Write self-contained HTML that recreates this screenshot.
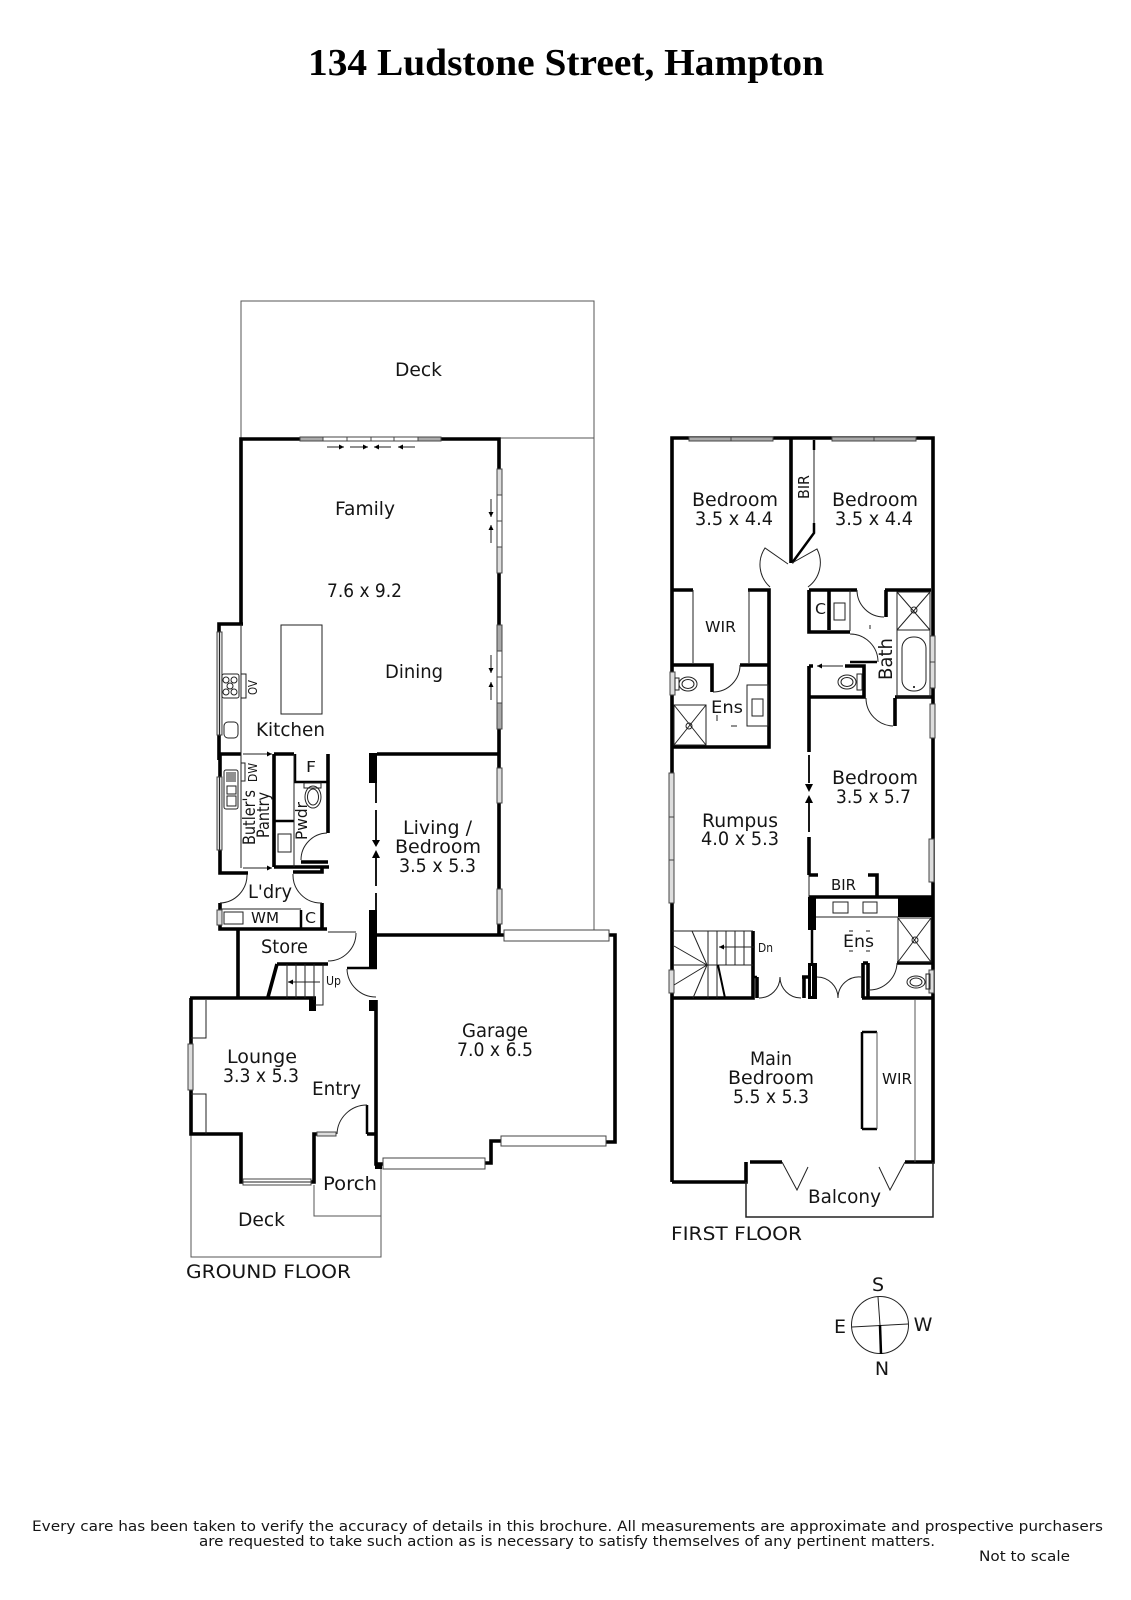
<!DOCTYPE html>
<html lang="en"><head><meta charset="utf-8"><title>134 Ludstone Street, Hampton</title>
<style>
html,body{margin:0;padding:0;background:#fff}
svg{display:block}
text{font-family:"DejaVu Sans","Liberation Sans",sans-serif;font-size:19px;fill:#151515}
.ti{font-family:"Liberation Serif",serif;font-weight:bold;font-size:38px;fill:#000}
.s{font-size:15px}.f{font-size:14px}.u{font-size:12px}
.w{fill:none;stroke:#000;stroke-width:3.6;stroke-linejoin:miter}
.m{fill:none;stroke:#000;stroke-width:2.5}
.t{fill:none;stroke:#222;stroke-width:1}
.b{fill:none;stroke:#222;stroke-width:1.5}
.g{fill:none;stroke:#555;stroke-width:1}
.win{fill:#fff;stroke:#444;stroke-width:1}
.gr{fill:#aaa;stroke:#444;stroke-width:1}
.l{fill:#ddd;stroke:#444;stroke-width:1}
</style></head><body>
<svg width="1131" height="1600" viewBox="0 0 1131 1600" xmlns="http://www.w3.org/2000/svg">
<rect width="1131" height="1600" fill="#fff"/>
<defs><marker id="a" markerWidth="6" markerHeight="6" refX="5" refY="3" orient="auto" markerUnits="userSpaceOnUse"><path d="M0 0.5L5 3L0 5.5z" fill="#000"/></marker></defs>

<text class="ti" x="308" y="75" textLength="516" lengthAdjust="spacingAndGlyphs">134 Ludstone Street, Hampton</text>

<!-- GROUND FLOOR -->
<path class="g" d="M241 438V301H594V930M499 438H594"/>
<path class="g" d="M191 1134V1257H381V1169M314 1185V1216H381"/>
<path class="w" d="M241 623V439H499V935M219 760V624H243M241 439V624M220 754H241M274 754H294M377 754H499M377 935H505M609 935H615V1142H606M501 1141H491V1163H485M383 1164H376V1134M376 1140V1000"/>
<path class="w" d="M220 754V873H248M293 872H322V867M274 867H329M274 754V867M220 903V929H327M322 903V929M238 929V998M190 998H316M191 998V1134H241V1182H243M311 1182H314V1134H317M367 1134H377M277 964H328M277 964L268 997M301 862H328M328 754V833"/>
<path class="m" d="M295 754V782H328M274 821H294M301 910V929M347 968H377M367 1105V1134"/>
<path class="t" d="M241 624V754M241 754V868M294 754V867M220 909H301M191 1038H206V1000M191 1094H206V1134"/>
<rect x="369" y="753" width="8" height="30"/><rect x="369" y="910" width="8" height="57"/><rect x="369" y="1000" width="8" height="11"/><rect x="309" y="998" width="7" height="13"/>
<path d="M376 783V803M376 810V840M376 858V886M376 893V910" fill="none" stroke="#000" stroke-width="1.8"/>
<path d="M372 840H380L376 847zM372 858H380L376 850z" fill="#000"/>
<!-- top window -->
<rect class="gr" x="300" y="437" width="23" height="4"/><rect class="win" x="323" y="437" width="24" height="4"/><rect class="win" x="347" y="437" width="24" height="4"/><rect class="win" x="371" y="437" width="23" height="4"/><rect class="win" x="394" y="437" width="24" height="4"/><rect class="gr" x="418" y="437" width="23" height="4"/>
<path class="t" d="M327 447H344" marker-end="url(#a)"/><path class="t" d="M350 447H368" marker-end="url(#a)"/><path class="t" d="M391 447H374" marker-end="url(#a)"/><path class="t" d="M415 447H398" marker-end="url(#a)"/>
<!-- right windows -->
<rect class="l" x="497" y="469" width="5" height="26"/><rect class="win" x="497" y="495" width="5" height="26"/><rect class="win" x="497" y="521" width="5" height="26"/><rect class="l" x="497" y="547" width="5" height="26"/>
<rect class="gr" x="497" y="625" width="5" height="26"/><rect class="win" x="497" y="651" width="5" height="26"/><rect class="win" x="497" y="677" width="5" height="26"/><rect class="gr" x="497" y="703" width="5" height="26"/>
<path class="t" d="M491 499V517" marker-end="url(#a)"/><path class="t" d="M491 543V525" marker-end="url(#a)"/><path class="t" d="M491 655V673" marker-end="url(#a)"/><path class="t" d="M491 700V682" marker-end="url(#a)"/>
<rect class="l" x="497" y="768" width="5" height="35"/><rect class="l" x="497" y="889" width="5" height="35"/>
<!-- left windows -->
<rect class="l" x="217" y="632" width="5" height="103"/><path class="t" d="M219.500 632V735"/>
<rect class="l" x="217" y="777" width="5" height="73"/><path class="t" d="M219.500 777V850"/>
<rect class="l" x="217" y="910" width="5" height="15"/>
<rect class="l" x="188" y="1044" width="5" height="46"/>
<rect class="win" x="243" y="1179" width="68" height="6"/><path class="t" d="M243 1182H311"/>
<rect class="l" x="317" y="1132" width="19" height="4"/>
<!-- garage windows -->
<rect class="win" x="504" y="930" width="105" height="11"/><rect class="win" x="383" y="1158" width="102" height="11"/><rect class="win" x="501" y="1136" width="105" height="10"/>
<rect x="375" y="1163" width="7" height="6"/>
<!-- kitchen fittings -->
<rect class="t" x="281" y="625" width="41" height="89"/>
<rect class="t" x="222" y="674" width="17" height="24" rx="2"/><rect class="t" x="241" y="674" width="5" height="24"/>
<circle class="t" cx="226" cy="680" r="3"/><circle class="t" cx="234" cy="680" r="3"/><circle class="t" cx="230" cy="686" r="3"/><circle class="t" cx="226" cy="692" r="3"/><circle class="t" cx="234" cy="692" r="3"/>
<rect class="t" x="224" y="722" width="14" height="16" rx="4"/>
<path class="t" d="M243 754H272" marker-end="url(#a)"/><path class="t" d="M243 868H272" marker-end="url(#a)"/>
<rect class="t" x="241" y="763" width="4" height="18"/>
<rect class="t" x="224" y="770" width="14" height="39" rx="2"/><rect class="t" x="227" y="786" width="9" height="8"/><rect class="t" x="227" y="796" width="9" height="10"/><path class="t" d="M226 773H236M226 775H236M226 777H236M226 779H236M226 781H236"/>
<rect class="t" x="278" y="834" width="13" height="18"/>
<rect class="t" x="224" y="912" width="19" height="12"/>
<rect class="t" x="304" y="783" width="17" height="5"/><ellipse class="t" cx="313" cy="797" rx="8" ry="11"/><ellipse class="t" cx="313" cy="797" rx="5.500" ry="8"/>
<!-- doors -->
<path class="t" d="M327 833A27 27 0 0 0 301 860M247 874A28 28 0 0 1 220 903M293 874A28 28 0 0 0 322 903M356 933A28 28 0 0 1 328 961M328 932H356M347 969A29 29 0 0 0 376 997M337 1134A30 30 0 0 1 367 1105"/>
<!-- stairs -->
<path class="t" d="M287 964V998M296 964V998M305 964V998M314 964V1000M323 964V1005H315"/>
<path class="t" d="M320 982H288" marker-end="url(#a)"/>

<!-- FIRST FLOOR -->
<path class="w" d="M672 1182V438H933V1162H905M791 438V563M672 590H693M748 590H769V747H672M672 665H712V692M740 665H769M672 998H753V931M862 998H932M809 590H857M886 590V617M885 590H931M809 590V632H850M829 590V630M809 666V752M809 666H813M845 666H864V697H809M895 698V726M895 697H932M809 837V875M809 875H818M868 875H877V897M809 897H933M750 1162H782M746 1162V1182H672M897 963H932M863 963V998M868 963V998M863 963H868M757 977V998M802 977H808M804 977V998"/>
<path class="m" d="M814 440V450M814 523V533L792 563M850 662H877M757 977H753M862 1032H877M862 1129H877M862 1032V1129"/>
<path class="t" d="M814 450V523M693 590V663M749 590V663M850 590V631M708 931H672M753 931H672M809 875V897"/>
<path class="g" d="M877 1032V1129M915 1000V1162"/>
<path class="b" d="M746 1182V1217H933V1162"/>
<path class="t" d="M788 564L765 548A30 30 0 0 0 770 587M792 563L817 549A30 30 0 0 1 808 587M857 590A27 27 0 0 0 884 617M850 634A28 28 0 0 1 878 662M866 698A28 28 0 0 0 893 726M740 665A27 27 0 0 1 713 692M868 990A28 28 0 0 0 897 963M817 977A21 21 0 0 1 838 998A21 21 0 0 1 861 977M759 998A21 21 0 0 0 780 977A21 21 0 0 0 801 998"/>
<path class="t" d="M782 1162L797 1190L808 1167M905 1162L890 1190L879 1167"/>
<!-- first floor windows -->
<rect class="gr" x="689" y="437" width="42" height="4"/><rect class="gr" x="731" y="437" width="42" height="4"/><rect class="gr" x="832" y="437" width="42" height="4"/><rect class="gr" x="874" y="437" width="42" height="4"/>
<rect class="l" x="670" y="672" width="5" height="23"/>
<rect class="l" x="930" y="636" width="5" height="26"/><rect class="l" x="930" y="662" width="5" height="26"/><rect class="l" x="930" y="704" width="5" height="34"/>
<rect class="l" x="669" y="773" width="5" height="44"/><rect class="l" x="669" y="817" width="5" height="43"/><rect class="l" x="669" y="860" width="5" height="43"/>
<rect class="l" x="929" y="839" width="5" height="43"/><rect class="l" x="929" y="970" width="5" height="23"/><rect class="l" x="669" y="970" width="5" height="23"/>
<!-- fittings -->
<rect class="t" x="675" y="678" width="4" height="12"/><ellipse class="t" cx="688" cy="684" rx="9" ry="7"/><ellipse class="t" cx="688" cy="684" rx="6" ry="4.500"/>
<rect class="t" x="674" y="705" width="32" height="40"/><path class="t" d="M674 705L706 745M706 705L674 745"/><circle class="t" cx="689" cy="726" r="3"/>
<rect class="t" x="747" y="685" width="21" height="41"/><rect class="t" x="752" y="699" width="11" height="17"/>
<path class="t" d="M717 715V721M731 726H737"/>
<rect class="t" x="834" y="603" width="11" height="17"/>
<rect class="t" x="897" y="592" width="33" height="38"/><path class="t" d="M897 592L930 630M930 592L897 630"/><circle class="t" cx="914" cy="610" r="3"/>
<rect class="t" x="897" y="630" width="33" height="67"/><rect class="t" x="902" y="637" width="24" height="54" rx="11"/><circle cx="914" cy="687" r="1"/>
<path d="M870 625V629" class="t"/>
<path class="t" d="M843 666H817" marker-end="url(#a)"/>
<rect class="t" x="857" y="674" width="5" height="16"/><ellipse class="t" cx="847" cy="682" rx="9" ry="7"/><ellipse class="t" cx="847" cy="682" rx="6" ry="4.500"/>
<path d="M809 755V783M809 803V832" stroke="#000" stroke-width="1.800" fill="none"/>
<path d="M805 784H813L809 792zM805 803H813L809 795z" fill="#000"/>
<rect x="808" y="897" width="8" height="33"/><rect x="808" y="963" width="9" height="36"/><rect x="811" y="966" width="1" height="30" fill="#fff"/>
<rect x="898" y="897" width="35" height="20"/>
<path d="M812 930V963" stroke="#000" stroke-width="2.500" fill="none"/>
<path class="t" d="M816 917H898"/><rect class="t" x="833" y="902" width="15" height="11"/><rect class="t" x="863" y="902" width="14" height="11"/>
<path class="t" d="M849 931H853M866 931H870M849 951H853M866 951H870"/>
<rect class="t" x="898" y="918" width="33" height="44"/><path class="t" d="M898 918L931 962M931 918L898 962"/><circle class="t" cx="915" cy="940" r="3"/>
<rect class="t" x="926" y="974" width="4" height="15"/><ellipse class="t" cx="916" cy="982" rx="9" ry="6"/><ellipse class="t" cx="916" cy="982" rx="6" ry="4"/>
<!-- stairs first -->
<path class="t" d="M708 931V998M717 931V998M726 931V965M735 931V965M744 931V965M673 965H753M707 965L692 931M707 965L674 946M707 965L674 985M707 965L693 998"/>
<path d="M718 965L725 998" stroke="#000" stroke-width="2" fill="none"/>
<path class="t" d="M755 947H719" marker-end="url(#a)"/>

<!-- compass -->
<circle cx="880" cy="1325" r="28.500" fill="none" stroke="#222" stroke-width="1"/>
<path d="M852 1327L908 1324M878 1297L880 1325" stroke="#222" stroke-width="1" fill="none"/><path d="M880 1325L881 1354" stroke="#000" stroke-width="2.500" fill="none"/>

<!-- labels -->
<text x="395" y="376" textLength="47" lengthAdjust="spacingAndGlyphs">Deck</text>
<text x="335" y="515" textLength="60" lengthAdjust="spacingAndGlyphs">Family</text>
<text x="327" y="597" textLength="75" lengthAdjust="spacingAndGlyphs">7.6 x 9.2</text>
<text x="385" y="678" textLength="58" lengthAdjust="spacingAndGlyphs">Dining</text>
<text x="256" y="736" textLength="69" lengthAdjust="spacingAndGlyphs">Kitchen</text>
<text transform="translate(257,695) rotate(-90)" textLength="15" lengthAdjust="spacingAndGlyphs" style="font-size:12px">OV</text>
<text transform="translate(257,782) rotate(-90)" textLength="19" lengthAdjust="spacingAndGlyphs" style="font-size:12px">DW</text>
<text transform="translate(255,845) rotate(-90)" textLength="55" lengthAdjust="spacingAndGlyphs" style="font-size:17px">Butler's</text>
<text transform="translate(269,838) rotate(-90)" textLength="46" lengthAdjust="spacingAndGlyphs" style="font-size:17px">Pantry</text>
<text transform="translate(307,840) rotate(-90)" textLength="38" lengthAdjust="spacingAndGlyphs" style="font-size:16px">Pwdr</text>
<text x="306" y="772" class="s" textLength="10" lengthAdjust="spacingAndGlyphs">F</text>
<text x="248" y="898" textLength="44" lengthAdjust="spacingAndGlyphs">L'dry</text>
<text class="s" x="251" y="923" textLength="28" lengthAdjust="spacingAndGlyphs">WM</text>
<text class="s" x="305" y="923" textLength="11" lengthAdjust="spacingAndGlyphs">C</text>
<text x="261" y="953" textLength="47" lengthAdjust="spacingAndGlyphs">Store</text>
<text class="u" x="326" y="985" textLength="15" lengthAdjust="spacingAndGlyphs">Up</text>
<text x="403" y="834" textLength="69" lengthAdjust="spacingAndGlyphs">Living /</text>
<text x="395" y="853" textLength="86" lengthAdjust="spacingAndGlyphs">Bedroom</text>
<text x="399" y="872" textLength="77" lengthAdjust="spacingAndGlyphs">3.5 x 5.3</text>
<text x="462" y="1037" textLength="66" lengthAdjust="spacingAndGlyphs">Garage</text>
<text x="457" y="1056" textLength="76" lengthAdjust="spacingAndGlyphs">7.0 x 6.5</text>
<text x="227" y="1063" textLength="70" lengthAdjust="spacingAndGlyphs">Lounge</text>
<text x="223" y="1082" textLength="76" lengthAdjust="spacingAndGlyphs">3.3 x 5.3</text>
<text x="312" y="1095" textLength="49" lengthAdjust="spacingAndGlyphs">Entry</text>
<text x="323" y="1190" textLength="54" lengthAdjust="spacingAndGlyphs">Porch</text>
<text x="238" y="1226" textLength="47" lengthAdjust="spacingAndGlyphs">Deck</text>
<text x="186" y="1278" textLength="165" lengthAdjust="spacingAndGlyphs">GROUND FLOOR</text>

<text x="692" y="506" textLength="86" lengthAdjust="spacingAndGlyphs">Bedroom</text>
<text x="695" y="525" textLength="78" lengthAdjust="spacingAndGlyphs">3.5 x 4.4</text>
<text x="832" y="506" textLength="86" lengthAdjust="spacingAndGlyphs">Bedroom</text>
<text x="835" y="525" textLength="78" lengthAdjust="spacingAndGlyphs">3.5 x 4.4</text>
<text class="s" transform="translate(809,499) rotate(-90)" textLength="24" lengthAdjust="spacingAndGlyphs">BIR</text>
<text class="s" x="705" y="632" textLength="31" lengthAdjust="spacingAndGlyphs">WIR</text>
<text class="s" x="815" y="614" textLength="11" lengthAdjust="spacingAndGlyphs">C</text>
<text x="711" y="713" textLength="32" lengthAdjust="spacingAndGlyphs" style="font-size:17px">Ens</text>
<text transform="translate(892,680) rotate(-90)" textLength="42" lengthAdjust="spacingAndGlyphs">Bath</text>
<text x="832" y="784" textLength="86" lengthAdjust="spacingAndGlyphs">Bedroom</text>
<text x="836" y="803" textLength="75" lengthAdjust="spacingAndGlyphs">3.5 x 5.7</text>
<text x="702" y="827" textLength="76" lengthAdjust="spacingAndGlyphs">Rumpus</text>
<text x="701" y="845" textLength="78" lengthAdjust="spacingAndGlyphs">4.0 x 5.3</text>
<text class="s" x="831" y="890" textLength="25" lengthAdjust="spacingAndGlyphs">BIR</text>
<text x="843" y="947" textLength="31" lengthAdjust="spacingAndGlyphs" style="font-size:17px">Ens</text>
<text class="u" x="758" y="952" textLength="15" lengthAdjust="spacingAndGlyphs">Dn</text>
<text x="750" y="1065" textLength="42" lengthAdjust="spacingAndGlyphs">Main</text>
<text x="728" y="1084" textLength="86" lengthAdjust="spacingAndGlyphs">Bedroom</text>
<text x="733" y="1103" textLength="76" lengthAdjust="spacingAndGlyphs">5.5 x 5.3</text>
<text class="s" x="882" y="1084" textLength="30" lengthAdjust="spacingAndGlyphs">WIR</text>
<text x="808" y="1203" textLength="73" lengthAdjust="spacingAndGlyphs">Balcony</text>
<text x="671" y="1240" textLength="131" lengthAdjust="spacingAndGlyphs">FIRST FLOOR</text>

<text x="878" y="1291" text-anchor="middle">S</text>
<text x="840" y="1333" text-anchor="middle">E</text>
<text x="923" y="1331" text-anchor="middle">W</text>
<text x="882" y="1375" text-anchor="middle">N</text>

<text class="f" x="32" y="1531" textLength="1071" lengthAdjust="spacingAndGlyphs">Every care has been taken to verify the accuracy of details in this brochure.  All measurements are approximate and prospective purchasers</text>
<text class="f" x="199" y="1546" textLength="736" lengthAdjust="spacingAndGlyphs">are requested to take such action as is necessary to satisfy themselves of any pertinent matters.</text>
<text class="f" x="979" y="1561" textLength="91" lengthAdjust="spacingAndGlyphs">Not to scale</text>
</svg>
</body></html>
